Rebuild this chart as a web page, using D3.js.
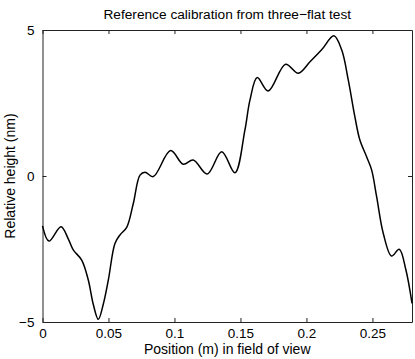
<!DOCTYPE html>
<html>
<head>
<meta charset="utf-8">
<script src="https://d3js.org/d3.v7.min.js"></script>
<style>
  body { margin: 0; background: #fff; }
  svg { display: block; font-family: "Liberation Sans", Arial, sans-serif; }
</style>
</head>
<body>
<div id="chart"></div>
<script>
// profile (position in m, height in nm)
const positions = [0, 0.0049, 0.014, 0.0195, 0.0233, 0.0297, 0.0347, 0.0385, 0.0423, 0.046,
    0.0499, 0.0549, 0.0587, 0.0638, 0.0688, 0.0739, 0.0777, 0.0839, 0.0971, 0.1067,
    0.1142, 0.1248, 0.1358, 0.1458, 0.1534, 0.1572, 0.1627, 0.171, 0.1842, 0.1938,
    0.2027, 0.2115, 0.2208, 0.2267, 0.2317, 0.2367, 0.2405, 0.2456, 0.2494, 0.2532,
    0.2582, 0.2645, 0.2703, 0.2754, 0.28];
const heights = [-1.71, -2.23, -1.74, -2.15, -2.53, -2.88, -3.56, -4.4, -4.91, -4.4,
    -3.56, -2.31, -2.02, -1.76, -0.94, 0.03, 0.13, -0.02, 0.87, 0.40,
    0.55, 0.07, 0.83, 0.11, 1.58, 2.60, 3.37, 2.91, 3.83, 3.52,
    3.91, 4.32, 4.80, 4.32, 3.29, 2.03, 1.23, 0.66, 0.21, -0.71,
    -1.96, -2.74, -2.51, -3.22, -4.36];
const xTicks = [0, 0.05, 0.1, 0.15, 0.2, 0.25];
const yTicks = [-5, 0, 5];

const data = positions.map((p, i) => ({x: p, y: heights[i]}));

const width = 415, height = 359;
const m = {left: 42.5, right: 412, top: 30, bottom: 322};

const svg = d3.select('#chart')
    .append('svg')
    .attr('width', width)
    .attr('height', height);

const xScale = d3.scaleLinear().domain([0, 0.28]).range([m.left, m.right]);
const yScale = d3.scaleLinear().domain([-5, 5]).range([m.bottom, m.top]);

const fmt = d => d === 0 ? '0' : String(d).replace('-', '\u2212');

// axes: bottom/left with labels, top/right with ticks only (box)
const tickLen = 4;
svg.append('g')
    .attr('transform', `translate(0,${m.bottom})`)
    .call(d3.axisBottom(xScale).tickValues(xTicks).tickSizeInner(-tickLen).tickSizeOuter(0).tickPadding(6).tickFormat(fmt));
svg.append('g')
    .attr('transform', `translate(0,${m.top})`)
    .call(d3.axisTop(xScale).tickValues(xTicks).tickSizeInner(-tickLen).tickSizeOuter(0).tickFormat(''));
svg.append('g')
    .attr('transform', `translate(${m.left},0)`)
    .call(d3.axisLeft(yScale).tickValues(yTicks).tickSizeInner(-tickLen).tickSizeOuter(0).tickPadding(8).tickFormat(fmt));
svg.append('g')
    .attr('transform', `translate(${m.right},0)`)
    .call(d3.axisRight(yScale).tickValues(yTicks).tickSizeInner(-tickLen).tickSizeOuter(0).tickFormat(''));

svg.selectAll('.domain').attr('stroke', '#222');
svg.selectAll('.tick line').attr('stroke', '#222');
svg.selectAll('.tick text')
    .attr('font-size', '13.5px')
    .attr('fill', '#000')
    .style('font-family', '"Liberation Sans", Arial, sans-serif');

// the curve
svg.append('path')
    .datum(data)
    .attr('fill', 'none')
    .attr('stroke', '#000')
    .attr('stroke-width', 1.5)
    .attr('d', d3.line()
        .x(d => xScale(d.x))
        .y(d => yScale(d.y))
        .curve(d3.curveCatmullRom.alpha(0.5)));

svg.append('text')
    .attr('x', (m.left + m.right) / 2)
    .attr('y', 19)
    .attr('text-anchor', 'middle')
    .attr('font-size', '13.7px')
    .text('Reference calibration from three\u2212flat test');

svg.append('text')
    .attr('x', (m.left + m.right) / 2)
    .attr('y', 354)
    .attr('text-anchor', 'middle')
    .attr('font-size', '14px')
    .text('Position (m) in field of view');

svg.append('text')
    .attr('transform', `translate(15,${(m.top + m.bottom) / 2}) rotate(-90)`)
    .attr('text-anchor', 'middle')
    .attr('font-size', '14px')
    .text('Relative height (nm)');
</script>
</body>
</html>
